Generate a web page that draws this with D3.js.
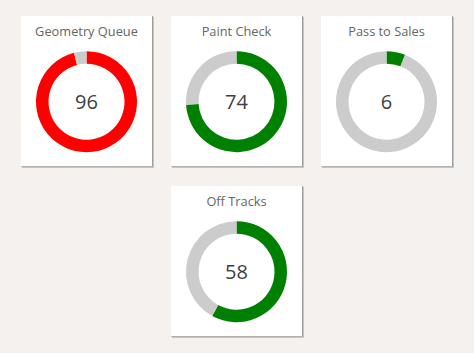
<!DOCTYPE html>
<html>
<head>
<meta charset="utf-8">
<script src="https://cdn.jsdelivr.net/npm/d3@7"></script>
<style>
  html, body { margin: 0; padding: 0; background: #f4f1ee; }
  svg { display: block; }
</style>
</head>
<body>
<svg id="chart" width="474" height="353"></svg>
<script>
const titles = ["Geometry Queue", "Paint Check", "Pass to Sales", "Off Tracks"];
const values = [96, 74, 6, 58];
const colors = ["#ff0000", "#008000", "#008000", "#008000"];
const maxValue = 100;

const svg = d3.select("#chart");
const cardW = 131, cardH = 150;
const positions = [[21, 16], [171, 16], [321, 16], [171, 186]];

const pie = d3.pie().sort(null).value(d => d.v);
const arc = d3.arc().innerRadius(38).outerRadius(50.5);

titles.forEach((t, i) => {
  const [x, y] = positions[i];
  const g = svg.append("g").attr("transform", `translate(${x},${y})`);
  // shadow
  g.append("rect").attr("x", 1).attr("y", 1).attr("width", cardW + 1).attr("height", cardH + 1).attr("fill", "#c4c4c4");
  g.append("rect").attr("x", 0).attr("y", 0).attr("width", cardW + 1).attr("height", cardH + 0.5).attr("fill", "#9f9f9f");
  g.append("rect").attr("x", 0).attr("y", 0).attr("width", cardW).attr("height", cardH).attr("fill", "#ffffff");
  g.append("text").attr("x", cardW / 2).attr("y", 20)
    .attr("text-anchor", "middle")
    .attr("font-family", "'Open Sans', sans-serif")
    .attr("font-size", 12.8)
    .attr("fill", "#666666")
    .text(t);
  const c = g.append("g").attr("transform", `translate(${cardW / 2},${85.7})`);
  const data = [{v: values[i], c: colors[i]}, {v: maxValue - values[i], c: "#cccccc"}];
  c.selectAll("path").data(pie(data)).join("path")
    .attr("d", arc).attr("fill", d => d.data.c);
  c.append("text").attr("x", 0).attr("y", 0).attr("dy", "0.36em")
    .attr("text-anchor", "middle")
    .attr("font-family", "'Open Sans', sans-serif")
    .attr("font-size", 20)
    .attr("fill", "#3f3f3f")
    .text(values[i]);
});
</script>
</body>
</html>
